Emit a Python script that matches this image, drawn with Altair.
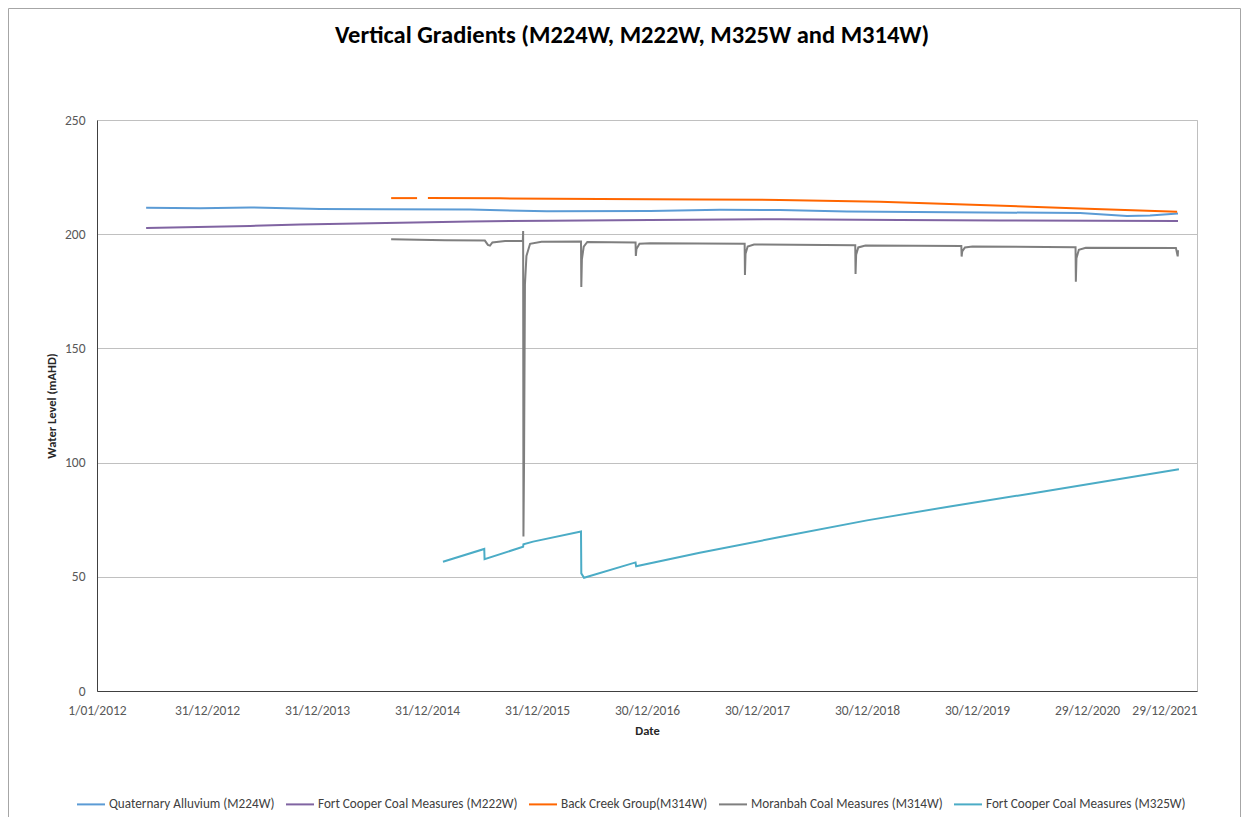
import altair as alt
import pandas as pd

FONT = "Carlito, Lato, sans-serif"
TITLE = "Vertical Gradients (M224W, M222W, M325W and M314W)"

SERIES = [
    "Quaternary Alluvium (M224W)",
    "Fort Cooper Coal Measures (M222W)",
    "Back Creek Group(M314W)",
    "Moranbah Coal Measures (M314W)",
    "Fort Cooper Coal Measures (M325W)",
]
COLORS = ["#5B9BD5", "#8064A2", "#FF6600", "#7F7F7F", "#4BACC6"]
WIDTHS = [2, 2, 6, 2, 2.5]

X_TICKS = ["2012-01-01", "2012-12-31", "2013-12-31", "2014-12-31", "2015-12-31",
           "2016-12-30", "2017-12-30", "2018-12-30", "2019-12-30", "2020-12-29",
           "2021-12-29"]
Y_TICKS = [0, 50, 100, 150, 200, 250]

# Quaternary Alluvium (M224W)
qa_dates = ["2012-06-12", "2012-12-08", "2013-05-23", "2014-01-10", "2014-07-28",
            "2015-05-23", "2016-02-02", "2017-01-09", "2017-08-29", "2018-03-16",
            "2018-10-24", "2019-10-01", "2020-12-06", "2021-05-11", "2021-07-26",
            "2021-10-27"]
qa_vals = [211.6, 211.4, 211.7, 211.0, 210.9, 210.8, 210.0, 210.2, 210.7, 210.6,
           209.9, 209.6, 209.3, 208.0, 208.2, 209.1]

# Fort Cooper Coal Measures (M222W)
fc222_dates = ["2012-06-12", "2013-05-23", "2013-11-05", "2014-10-02", "2015-05-23",
               "2016-02-12", "2017-01-09", "2018-03-16", "2019-04-18", "2020-03-15",
               "2021-10-27"]
fc222_vals = [202.7, 203.6, 204.2, 205.0, 205.6, 205.9, 206.2, 206.6, 206.2, 206.0, 205.8]

# Back Creek Group (M314W)  (None = gap in record)
bc_dates = ["2014-09-03", "2014-11-28", "2014-12-15", "2015-01-03", "2015-08-30",
            "2016-07-27", "2017-06-23", "2018-03-16", "2019-02-11", "2020-01-09",
            "2020-12-06", "2021-10-24"]
bc_vals = [215.8, 215.8, None, 215.8, 215.7, 215.4, 215.2, 215.0, 214.2, 212.8, 211.3, 209.8]

# Moranbah Coal Measures (M314W)
mb_dates = ["2014-09-03", "2015-03-01", "2015-07-11", "2015-07-21", "2015-07-28",
            "2015-08-05", "2015-09-16", "2015-11-14", "2015-11-15", "2015-11-16",
            "2015-11-18", "2015-11-21", "2015-11-26", "2015-12-08", "2016-01-15",
            "2016-05-25", "2016-05-26", "2016-05-28", "2016-06-03", "2016-06-15",
            "2016-11-22", "2016-11-23", "2016-11-25", "2016-12-05", "2017-01-10",
            "2017-11-19", "2017-11-20", "2017-11-22", "2017-11-29", "2017-12-20",
            "2018-11-21", "2018-11-22", "2018-11-24", "2018-12-01", "2018-12-25",
            "2019-11-08", "2019-11-09", "2019-11-11", "2019-11-20", "2019-12-15",
            "2020-11-21", "2020-11-22", "2020-11-24", "2020-12-02", "2020-12-25",
            "2021-10-20", "2021-10-26", "2021-10-27"]
mb_vals = [197.8, 197.4, 197.2, 195.3, 195.0,
           196.4, 197.0, 197.0, 201.4, 67.6,
           100.0, 178.0, 190.5, 195.8, 196.7,
           196.8, 176.9, 189.0, 194.5, 196.6,
           196.4, 190.5, 193.5, 195.8, 196.0,
           195.8, 182.1, 191.5, 194.6, 195.5,
           195.2, 182.6, 191.0, 194.2, 195.0,
           194.8, 190.2, 192.5, 194.2, 194.6,
           194.3, 179.2, 189.5, 193.2, 194.1,
           194.0, 190.3, 193.0]

# Fort Cooper Coal Measures (M325W)
fc325_dates = ["2015-02-22", "2015-07-09", "2015-07-10", "2015-11-15", "2015-11-16",
               "2015-12-18", "2016-05-25", "2016-05-26", "2016-06-04", "2016-11-22",
               "2016-11-24", "2017-06-23", "2018-03-16", "2018-12-30", "2019-10-01",
               "2020-07-03", "2021-10-30"]
fc325_vals = [56.6, 62.2, 57.7, 63.2, 64.2, 65.4, 69.8, 51.5, 49.6, 56.3,
              54.6, 60.5, 67.4, 74.7, 80.8, 86.6, 97.1]

rows = []
for name, dates, vals in zip(SERIES,
                             [qa_dates, fc222_dates, bc_dates, mb_dates, fc325_dates],
                             [qa_vals, fc222_vals, bc_vals, mb_vals, fc325_vals]):
    seg = 0
    for d, v in zip(dates, vals):
        if v is None:
            seg += 1
            continue
        rows.append({"date": d, "level": v, "series": name, "seg": f"{name}-{seg}"})
df = pd.DataFrame(rows)


def ms(s):
    return int(pd.Timestamp(s).value // 10**6)


W, H = 1100, 571

lines = alt.Chart(df).mark_line(clip=True).encode(
    x=alt.X(
        "date:T",
        title="Date",
        scale=alt.Scale(type="utc", domain=[ms(X_TICKS[0]), ms(X_TICKS[-1])]),
        axis=alt.Axis(
            values=[ms(t) for t in X_TICKS],
            labelExpr="utcFormat(datum.value, '%-d/%m/%Y')",
            ticks=False,
            grid=False,
            labelPadding=12,
            titlePadding=8,
            labelAlign={"expr": "datum.index == 1 ? 'right' : 'center'"},
            labelOverlap=False,
        ),
    ),
    y=alt.Y(
        "level:Q",
        title="Water Level (mAHD)",
        scale=alt.Scale(domain=[0, 250], nice=False, zero=True),
        axis=alt.Axis(values=Y_TICKS, ticks=False, grid=True, labelPadding=12,
                      titlePadding=6),
    ),
    color=alt.Color(
        "series:N",
        scale=alt.Scale(domain=SERIES, range=COLORS),
        legend=alt.Legend(
            title=None,
            orient="none",
            legendX=-21,
            legendY=669,
            direction="horizontal",
            symbolType="stroke",
            symbolSize=784,
            symbolStrokeWidth=2,
            labelFontSize=13.2,
            labelFont=FONT,
            labelColor="#404040",
            labelLimit=0,
            columnPadding=7,
            labelOffset=3,
        ),
    ),
    strokeWidth=alt.StrokeWidth("series:N",
                                scale=alt.Scale(domain=SERIES, range=WIDTHS),
                                legend=None),
    detail=alt.Detail("seg:N"),
)

border = alt.Chart(pd.DataFrame({"k": [0]})).mark_rect(
    filled=False, color="#A6A6A6", strokeWidth=1
).encode(
    x=alt.value(-88.5), x2=alt.value(W + 43.5),
    y=alt.value(-111.5), y2=alt.value(H + 150),
)

chart = alt.layer(border, lines).properties(
    width=W,
    height=H,
    padding={"left": 89, "top": 112, "right": 44, "bottom": 126},
    autosize=alt.AutoSizeParams(type="none"),
    title=alt.TitleParams(TITLE, fontSize=24.5, font=FONT, fontWeight="bold",
                          color="#000000", anchor="middle", offset=-40, dx=-15),
).configure_view(
    stroke="#BFBFBF", strokeWidth=1
).configure_axis(
    labelFont=FONT, titleFont=FONT, labelFontSize=13.5, titleFontSize=12.5,
    labelColor="#595959", titleColor="#262626", titleFontWeight="bold",
    gridColor="#C0C0C0", gridWidth=1, domainColor="#404040", domainWidth=1,
)

chart.save("out.html", embed_options={"renderer": "svg", "actions": False})
